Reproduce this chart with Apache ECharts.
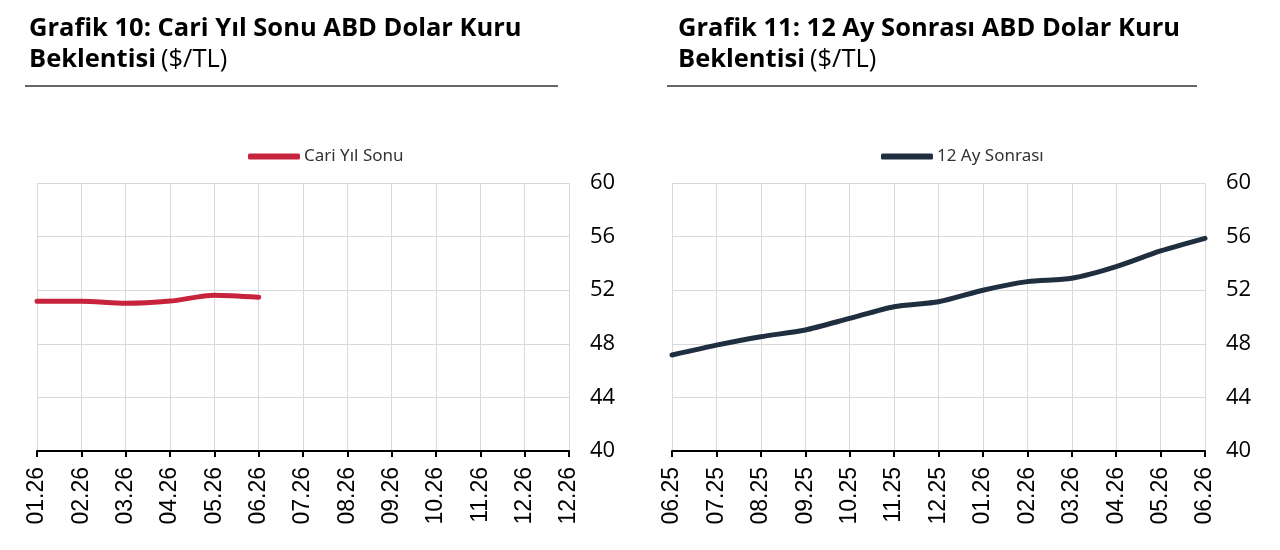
<!DOCTYPE html>
<html>
<head>
<meta charset="utf-8">
<script src="https://cdn.jsdelivr.net/npm/echarts@6/dist/echarts.min.js"></script>
<style>html,body{margin:0;padding:0;background:#fff}#c{width:1280px;height:550px}</style>
</head>
<body>
<div id="c"></div>
<script>
// Data
const leftCategories = ['01.26','02.26','03.26','04.26','05.26','06.26','07.26','08.26','09.26','10.26','11.26','12.26','12.26'];
const cariYilSonu = [51.17, 51.17, 51.02, 51.19, 51.62, 51.47];
const rightCategories = ['06.25','07.25','08.25','09.25','10.25','11.25','12.25','01.26','02.26','03.26','04.26','05.26','06.26'];
const onIkiAySonrasi = [47.16, 47.9, 48.53, 49.03, 49.9, 50.77, 51.14, 52.0, 52.64, 52.89, 53.76, 54.93, 55.87];
const yTicks = { min: 40, max: 60, interval: 4 };

const RED = '#c8233d';
const NAVY = '#1f2f40';
const GRID = '#d9d9d9';

function xAxis(idx, cats) {
  return {
    type: 'category', gridIndex: idx, data: cats, boundaryGap: false,
    axisLine: { lineStyle: { color: '#000', width: 2 } },
    axisTick: { show: true, length: 6, lineStyle: { color: '#000', width: 2 } },
    splitLine: { show: true, lineStyle: { color: GRID, width: 1 } },
    axisLabel: { interval: 0, rotate: 90, fontSize: 23, color: '#000', margin: 16, fontFamily: 'Liberation Sans' }
  };
}
function yAxis(idx) {
  return {
    type: 'value', gridIndex: idx, position: 'right', min: yTicks.min, max: yTicks.max, interval: yTicks.interval,
    axisLine: { show: false }, axisTick: { show: false },
    splitLine: { show: true, lineStyle: { color: GRID, width: 1 } },
    axisLabel: { fontSize: 22, color: '#000', margin: 21, fontFamily: 'Open Sans' }
  };
}
function title(left, text1) {
  return {
    left: left, top: 13, padding: 0,
    text: '{b|' + text1 + '}\n{b|Beklentisi} {r|($/TL)}',
    textStyle: {
      rich: {
        b: { fontFamily: 'Open Sans', fontWeight: 'bold', fontSize: 25.5, color: '#000', lineHeight: 31 },
        r: { fontFamily: 'Open Sans', fontWeight: 'normal', fontSize: 25.5, color: '#000', lineHeight: 31 }
      }
    }
  };
}

const chart = echarts.init(document.getElementById('c'));
chart.setOption({
  animation: false,
  backgroundColor: '#fff',
  title: [
    title(29, 'Grafik 10: Cari Yıl Sonu ABD Dolar Kuru'),
    title(678, 'Grafik 11: 12 Ay Sonrası ABD Dolar Kuru')
  ],
  graphic: [
    { type: 'line', shape: { x1: 25, y1: 86, x2: 558, y2: 86 }, style: { stroke: '#333', lineWidth: 1.5 } },
    { type: 'line', shape: { x1: 667, y1: 86, x2: 1197, y2: 86 }, style: { stroke: '#333', lineWidth: 1.5 } }
  ],
  legend: [
    { data: ['Cari Yıl Sonu'], left: 248, top: 148, itemWidth: 52, itemHeight: 6, icon: 'roundRect', itemGap: 4, padding: 0,
      textStyle: { fontSize: 17, color: '#333', fontFamily: 'Noto Sans', padding: [0, 0, 0, -1] } },
    { data: ['12 Ay Sonrası'], left: 881, top: 148, itemWidth: 52, itemHeight: 6, icon: 'roundRect', itemGap: 4, padding: 0,
      textStyle: { fontSize: 17, color: '#333', fontFamily: 'Noto Sans', padding: [0, 0, 0, -1] } }
  ],
  grid: [
    { left: 37, right: 711, top: 183, bottom: 99 },
    { left: 672, right: 75, top: 183, bottom: 99 }
  ],
  xAxis: [xAxis(0, leftCategories), xAxis(1, rightCategories)],
  yAxis: [yAxis(0), yAxis(1)],
  series: [
    { name: 'Cari Yıl Sonu', type: 'line', xAxisIndex: 0, yAxisIndex: 0, data: cariYilSonu, smooth: 0.25,
      showSymbol: false, itemStyle: { color: RED }, lineStyle: { color: RED, width: 5, cap: 'round' } },
    { name: '12 Ay Sonrası', type: 'line', xAxisIndex: 1, yAxisIndex: 1, data: onIkiAySonrasi, smooth: 0.25,
      showSymbol: false, itemStyle: { color: NAVY }, lineStyle: { color: NAVY, width: 5, cap: 'round' } }
  ]
});
</script>
</body>
</html>
